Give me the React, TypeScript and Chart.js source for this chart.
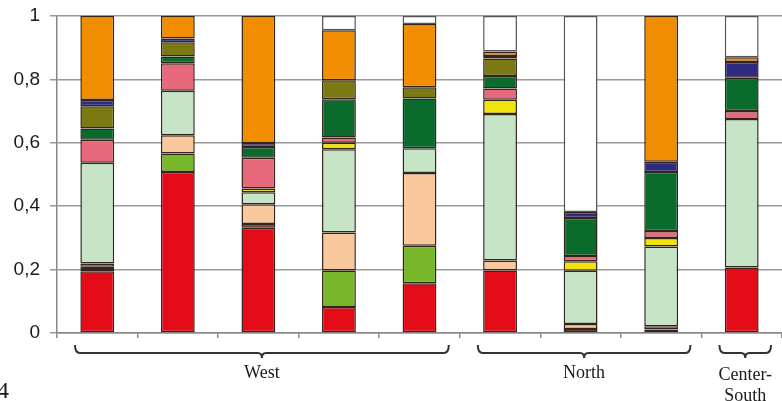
import React, { useEffect, useRef } from "react";
import { Chart, registerables } from "chart.js";

Chart.register(...registerables);

const categories = ["1", "2", "3", "4", "5", "6", "7", "8", "9"];
const yTickLabels = ["0", "0,2", "0,4", "0,6", "0,8", "1"];

const groupLabels = [["West"], ["North"], ["Center-", "South"]];
const groupStart = [0, 5, 8];
const groupEnd = [4, 7, 8];

const red = [0.195, 0.508, 0.332, 0.082, 0.157, 0.197, null, null, 0.207];
const darkRed = [0.007, null, 0.012, null, null, null, 0.013, 0.011, null];
const lime = [0.007, 0.058, null, 0.115, 0.118, null, null, null, null];
const peach = [0.01, 0.058, 0.062, 0.12, 0.23, 0.032, 0.015, 0.01, null];
const mint = [0.318, 0.14, 0.038, 0.263, 0.078, 0.462, 0.168, 0.252, 0.468];
const yellow = [null, null, 0.012, 0.02, null, 0.045, 0.03, 0.027, null];
const pink = [0.073, 0.087, 0.097, 0.017, null, 0.035, 0.017, 0.022, 0.025];
const darkGreen = [0.035, 0.021, 0.034, 0.12, 0.157, 0.04, 0.12, 0.186, 0.105];
const olive = [0.07, 0.045, null, 0.06, 0.035, 0.055, null, null, null];
const navy = [0.02, 0.012, 0.012, null, null, 0.008, 0.019, 0.032, 0.05];
const orange = [0.265, 0.071, 0.401, 0.158, 0.2, 0.014, null, 0.46, 0.015];
const white = [null, null, null, 0.045, 0.025, 0.112, 0.618, null, 0.13];

const seriesList = [
  { data: red, color: "#e30b17" },
  { data: darkRed, color: "#7a1510" },
  { data: lime, color: "#78b72a" },
  { data: peach, color: "#f9c89c" },
  { data: mint, color: "#c6e4c6" },
  { data: yellow, color: "#f0e40c" },
  { data: pink, color: "#e8697b" },
  { data: darkGreen, color: "#0a6b2d" },
  { data: olive, color: "#7b7a12" },
  { data: navy, color: "#2e2a80" },
  { data: orange, color: "#f18d00" },
  { data: white, color: "#ffffff" },
];

const groupPlugin = {
  id: "groupBrackets",
  afterDraw(chart: any) {
    const ctx = chart.ctx;
    const xs = chart.scales.x;
    const half = (xs.getPixelForValue(1) - xs.getPixelForValue(0)) / 2;
    const yLine = 353;
    const yTop = 345;
    ctx.save();
    ctx.strokeStyle = "#333";
    ctx.lineWidth = 2;
    ctx.fillStyle = "#1a1a1a";
    ctx.font = '18px "Liberation Serif", "Times New Roman", serif';
    ctx.textAlign = "center";
    ctx.textBaseline = "alphabetic";
    for (let g = 0; g < groupLabels.length; g++) {
      const x0 = xs.getPixelForValue(groupStart[g]) - half + 18;
      const x1 = xs.getPixelForValue(groupEnd[g]) + half - 11;
      const mid = (x0 + x1) / 2;
      ctx.beginPath();
      ctx.moveTo(x0, yTop);
      ctx.quadraticCurveTo(x0, yLine, x0 + 5, yLine);
      ctx.lineTo(mid - 4, yLine);
      ctx.quadraticCurveTo(mid, yLine, mid, yLine + 5);
      ctx.quadraticCurveTo(mid, yLine, mid + 4, yLine);
      ctx.lineTo(x1 - 5, yLine);
      ctx.quadraticCurveTo(x1, yLine, x1, yTop);
      ctx.stroke();
      const lines = groupLabels[g];
      const base = lines.length > 1 ? 380 : 378;
      lines.forEach((t, i) => ctx.fillText(t, mid, base + i * 21));
    }
    ctx.font = '24px "Liberation Serif", "Times New Roman", serif';
    ctx.textAlign = "right";
    ctx.fillText("4", 9, 398);
    ctx.restore();
  },
};

export default function App() {
  const ref = useRef<HTMLCanvasElement>(null);
  useEffect(() => {
    const chart = new Chart(ref.current as HTMLCanvasElement, {
      type: "bar",
      data: {
        labels: categories,
        datasets: seriesList.map((s) => ({
          data: s.data as any,
          backgroundColor: s.color,
          borderColor: s.color === "#ffffff" ? "#555" : "#33241c",
          borderWidth: 1.5,
          borderSkipped: false,
          barPercentage: 0.42,
          categoryPercentage: 1,
        })),
      },
      options: {
        responsive: false,
        animation: false,
        layout: { padding: { top: 16, right: -4, left: 0, bottom: 0 } },
        plugins: { legend: { display: false }, tooltip: { enabled: false } },
        scales: {
          x: {
            stacked: true,
            offset: true,
            grid: {
              offset: true,
              drawOnChartArea: false,
              drawTicks: true,
              tickLength: 5,
              color: "#888",
              lineWidth: 1.5,
            },
            border: { color: "#888", width: 1.5 },
            ticks: { display: true, callback: () => "" },
            afterFit: (s: any) => {
              s.height = 68;
              s.paddingLeft = 0;
              s.paddingRight = 0;
            },
          },
          y: {
            stacked: true,
            min: 0,
            max: 1,
            ticks: {
              stepSize: 0.2,
              padding: 10,
              color: "#1a1a1a",
              font: { family: '"Liberation Sans", Arial, sans-serif', size: 19 },
              callback: (_v: any, i: number) => yTickLabels[i],
            },
            grid: { color: "#9a9a9a", lineWidth: 1.5, tickLength: 7 },
            border: { color: "#888", width: 1.5 },
            afterFit: (s: any) => {
              s.width = 57;
              s.paddingTop = 0;
              s.paddingBottom = 0;
            },
          },
        },
      },
      plugins: [groupPlugin],
    });
    return () => chart.destroy();
  }, []);
  return (
    <div style={{ position: "fixed", left: 0, top: 0, width: 782, height: 401, background: "#fff" }}>
      <canvas ref={ref} width={782} height={401} style={{ display: "block" }} />
    </div>
  );
}
